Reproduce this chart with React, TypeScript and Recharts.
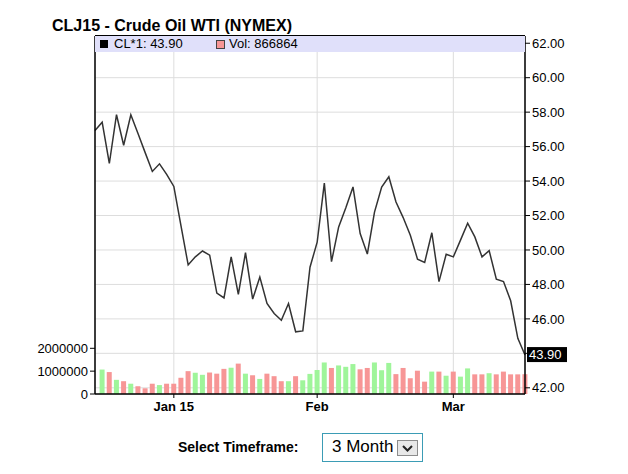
import React from 'react';
import { ComposedChart, Bar, Line, XAxis, YAxis, CartesianGrid, ReferenceLine } from 'recharts';

// trading days shown in the 3 month window
const dates = [
  '2014-12-16', '2014-12-17', '2014-12-18', '2014-12-19', '2014-12-22', '2014-12-23', '2014-12-24', '2014-12-26', '2014-12-29', '2014-12-30', '2014-12-31',
  '2015-01-02', '2015-01-05', '2015-01-06', '2015-01-07', '2015-01-08', '2015-01-09', '2015-01-12', '2015-01-13', '2015-01-14', '2015-01-15',
  '2015-01-16', '2015-01-20', '2015-01-21', '2015-01-22', '2015-01-23', '2015-01-26', '2015-01-27', '2015-01-28', '2015-01-29', '2015-01-30',
  '2015-02-02', '2015-02-03', '2015-02-04', '2015-02-05', '2015-02-06', '2015-02-09', '2015-02-10', '2015-02-11', '2015-02-12', '2015-02-13',
  '2015-02-17', '2015-02-18', '2015-02-19', '2015-02-20', '2015-02-23', '2015-02-24', '2015-02-25', '2015-02-26', '2015-02-27',
  '2015-03-02', '2015-03-03', '2015-03-04', '2015-03-05', '2015-03-06', '2015-03-09', '2015-03-10', '2015-03-11', '2015-03-12', '2015-03-13', '2015-03-16',
];

const closes = [
  56.94, 57.42, 55.02, 57.85, 56.08, 57.85, 56.76, 55.65, 54.56, 55.0, 54.39,
  53.69, 51.4, 49.13, 49.6, 49.94, 49.7, 47.5, 47.22, 49.6, 47.42,
  49.84, 47.15, 48.43, 46.9, 46.31, 45.92, 46.89, 45.25, 45.3, 49.0,
  50.45, 53.88, 49.32, 51.34, 52.45, 53.66, 50.95, 49.76, 52.2, 53.65,
  54.25, 52.78, 51.88, 50.85, 49.47, 49.28, 51.0, 48.16, 49.75,
  49.6, 50.57, 51.55, 50.76, 49.6, 49.96, 48.3, 48.17, 47.05, 44.87, 43.9,
];

const volumes = [
  null, 1070000, 960000, 620000, 560000, 450000, 340000, 250000, 450000, 390000, 450000,
  450000, 710000, 1000000, 930000, 840000, 940000, 890000, 1100000, 1150000, 1330000,
  890000, 820000, 660000, 890000, 780000, 560000, 560000, 780000, 600000, 880000,
  1050000, 1380000, 1140000, 1250000, 1190000, 1310000, 1080000, 1140000, 1380000, 1040000,
  1360000, 870000, 1140000, 690000, 1020000, 540000, 980000, 980000, 800000,
  980000, 760000, 1120000, 860000, 860000, 910000, 860000, 980000, 860000, 860000, 866864,
];

const monthStarts = ['2015-01-02', '2015-02-02', '2015-03-02'];
const monthLabels = ['Jan 15', 'Feb', 'Mar'];

const priceTicks = [42, 44, 46, 48, 50, 52, 54, 56, 58, 60, 62];
const volTicks = [0, 1000000, 2000000];

const FONT = 'Arial, "Liberation Sans", sans-serif';
const UP = '#9ff59a';
const DOWN = '#f79696';

const data = dates.map((d, i) => ({
  i,
  date: d,
  price: closes[i],
  vol: volumes[i],
  up: i > 0 && closes[i] >= closes[i - 1],
}));

const xTicks = monthStarts.map(d => dates.indexOf(d));
const lastPrice = closes[closes.length - 1];
const lastVol = volumes[volumes.length - 1];

const VolBar = (props: any) => {
  const { x, y, width, height, payload } = props;
  if (!height || height <= 0) return null;
  return <rect x={x} y={y} width={width} height={height} fill={payload.up ? UP : DOWN} />;
};

// black box with the last close, sits on the right axis
const LastLabel = (props: any) => {
  const vb = props.viewBox || {};
  const x = vb.x + vb.width + 2;
  const y = vb.y;
  return (
    <g>
      <rect x={x} y={y - 8} width={40} height={15} fill="#000" />
      <text x={x + 2} y={y + 4} fill="#fff" fontSize={13} fontFamily={FONT}>{lastPrice.toFixed(2)}</text>
    </g>
  );
};

export default function App() {
  return (
    <div style={{ position: 'absolute', left: 0, top: 0, width: 628, height: 474, background: '#fff', fontFamily: FONT }}>
      <div style={{ position: 'absolute', left: 52, top: 17, fontSize: 16, fontWeight: 'bold', lineHeight: '18px', color: '#000' }}>
        CLJ15 - Crude Oil WTI (NYMEX)
      </div>

      <div style={{ position: 'absolute', left: 0, top: 0 }}>
        <ComposedChart width={628} height={474} data={data} margin={{ top: 36, right: 43, bottom: 50, left: 35 }}>
          <CartesianGrid yAxisId="price" stroke="#dddddd" />
          <XAxis
            type="number"
            dataKey="i"
            domain={[0, dates.length - 1]}
            ticks={xTicks}
            tickFormatter={(v: number) => monthLabels[xTicks.indexOf(v)]}
            height={30}
            tickSize={4}
            tickMargin={4}
            stroke="#000"
            axisLine={{ stroke: '#000', strokeWidth: 1.5 }}
            tick={{ fill: '#000', fontSize: 13, fontWeight: 'bold', fontFamily: FONT }}
          />
          <YAxis
            yAxisId="vol"
            orientation="left"
            width={60}
            domain={[0, 15670000]}
            ticks={volTicks}
            tickSize={5}
            tickMargin={2}
            stroke="#000"
            axisLine={{ stroke: '#000', strokeWidth: 1.5 }}
            tick={{ fill: '#000', fontSize: 13, fontFamily: FONT }}
          />
          <YAxis
            yAxisId="price"
            orientation="right"
            width={60}
            domain={[41.64, 62.42]}
            allowDataOverflow
            ticks={priceTicks}
            tickFormatter={(v: number) => (Math.abs(v - lastPrice) < 1 ? '' : v.toFixed(2))}
            tickSize={5}
            tickMargin={2}
            stroke="#000"
            axisLine={{ stroke: '#000', strokeWidth: 1.5 }}
            tick={{ fill: '#000', fontSize: 13, fontFamily: FONT }}
          />
          <Bar yAxisId="vol" dataKey="vol" barSize={5} shape={VolBar} isAnimationActive={false} />
          <Line yAxisId="price" type="linear" dataKey="price" stroke="#333333" strokeWidth={1.5} dot={false} isAnimationActive={false} />
          <ReferenceLine yAxisId="price" y={lastPrice} stroke="none" label={<LastLabel />} />
        </ComposedChart>
      </div>

      {/* legend band across the top of the plot */}
      <div style={{ position: 'absolute', left: 95, top: 35, width: 430, height: 16, background: '#e0e0fa', borderTop: '1px solid #000', fontSize: 13, lineHeight: '16px', color: '#000' }}>
        <span style={{ position: 'absolute', left: 5, top: 4, width: 8, height: 8, background: '#000' }} />
        <span style={{ position: 'absolute', left: 19, top: 0 }}>CL*1: {lastPrice.toFixed(2)}</span>
        <span style={{ position: 'absolute', left: 121, top: 4, width: 7, height: 7, background: DOWN, border: '1px solid #444' }} />
        <span style={{ position: 'absolute', left: 134, top: 0 }}>Vol: {lastVol}</span>
      </div>

      <div style={{ position: 'absolute', left: 178, top: 439, fontSize: 14, fontWeight: 'bold', lineHeight: '17px', color: '#000' }}>
        Select Timeframe:
      </div>
      <div style={{ position: 'absolute', left: 322, top: 433, width: 99, height: 27, border: '1px solid #3b9cb5', background: '#fff' }}>
        <span style={{ position: 'absolute', left: 9, top: 3, fontSize: 17, lineHeight: '20px', color: '#000' }}>3 Month</span>
        <span style={{ position: 'absolute', left: 74, top: 6, width: 21, height: 16, background: '#e8e8e8', border: '1px solid #8c8c8c', boxSizing: 'border-box' }}>
          <svg width={19} height={14} style={{ position: 'absolute', left: 0, top: 0 }}>
            <polyline points="5,5 9.5,9.5 14,5" fill="none" stroke="#222" strokeWidth={2} />
          </svg>
        </span>
      </div>
    </div>
  );
}
